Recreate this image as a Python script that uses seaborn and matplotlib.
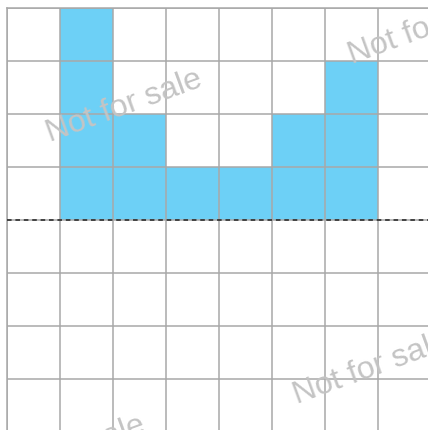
import numpy as np
import pandas as pd
import matplotlib
matplotlib.use("Agg")
import matplotlib.pyplot as plt
import seaborn as sns

# Data
categories = ["c0", "c1", "c2", "c3", "c4", "c5", "c6", "c7"]
values = [0, 4, 2, 1, 1, 2, 3, 0]
watermark = "Not for sale"

df = pd.DataFrame({"cat": categories, "val": values})

sns.set_theme(style="white")
plt.rcParams['font.family'] = ['Liberation Sans', 'DejaVu Sans']

fig = plt.figure(figsize=(4.28, 4.31), dpi=100)
W, H = 428, 431
left, top, cell = 6.5, 9.0, 53.0
ax = fig.add_axes([left / W, 1 - (top + 8 * cell) / H, 8 * cell / W, 8 * cell / H])

sns.barplot(data=df, x="cat", y="val", color="#6dd0f6", saturation=1,
            width=1.0, linewidth=0, ax=ax)

ax.set_xlim(-0.5, 7.5)
ax.set_ylim(-4, 4)
ax.set_xticks(np.arange(-0.5, 8, 1))
ax.set_yticks(np.arange(-4, 4.5, 1))
ax.set_xticklabels([])
ax.set_yticklabels([])
ax.tick_params(length=0)
ax.set_xlabel("")
ax.set_ylabel("")
ax.set_axisbelow(False)
ax.grid(True, color="#a8a8a8", linewidth=1.1)
for s in ax.spines.values():
    s.set_color("#a8a8a8")
    s.set_linewidth(1.1)
ax.axhline(0, color="#222222", linewidth=1.1, linestyle=(0, (3, 2.5)), zorder=5)

# watermarks (centers in pixel coords from top-left)
for cx, cy in [(124, 106), (426, 28), (371, 368), (67, 452)]:
    fig.text(cx / W, 1 - cy / H, watermark, fontsize=23, color="#c4c4c4",
             rotation=20, ha="center", va="center", rotation_mode="anchor",
             zorder=10)

fig.savefig("out.png", dpi=100)
